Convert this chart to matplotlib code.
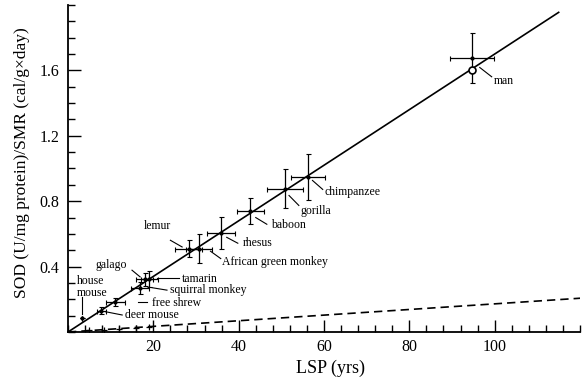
import matplotlib
matplotlib.use("Agg")
import matplotlib.pyplot as plt
from matplotlib.ticker import MultipleLocator

plt.rcParams['font.family'] = ['Liberation Serif', 'DejaVu Serif']

# ---- data ----
species = ["house\nmouse", "deer mouse", "free shrew", "squirral monkey", "galago",
           "tamarin", "lemur", "African green monkey", "rhesus", "baboon",
           "gorilla", "chimpanzee", "man"]
lsp = [3.3, 7.8, 11.1, 16.9, 18.0, 19.1, 28.3, 30.7, 35.8, 42.7, 50.9, 56.2, 94.7]
sod = [0.085, 0.13, 0.185, 0.27, 0.323, 0.325, 0.51, 0.51, 0.605, 0.738, 0.876, 0.947, 1.675]
lsp_err = [0.0, 1.0, 2.2, 2.1, 2.0, 2.1, 3.2, 3.0, 3.3, 3.2, 4.2, 4.0, 5.1]
sod_err = [0.0, 0.02, 0.025, 0.035, 0.04, 0.05, 0.05, 0.09, 0.10, 0.08, 0.12, 0.14, 0.155]

man_circle_x = [94.6]
man_circle_y = [1.60]

fit_x = [0, 115]
fit_y = [0, 1.955]

dash_x = [0, 122]
dash_y = [0, 0.21]
dash_pts_x = [5, 8.5, 12, 16, 19]
dash_pts_y = [0.01, 0.015, 0.02, 0.027, 0.033]

# label text position, leader start, leader end (data coords)
label_pos = [(2.1, 0.277), (13.4, 0.104), (19.6, 0.179), (24.0, 0.256), (13.9, 0.41),
             (26.75, 0.327), (20.9, 0.646), (36.2, 0.429), (40.9, 0.543), (47.5, 0.652),
             (54.6, 0.74), (60.2, 0.855), (99.7, 1.537)]
label_ha = ['left', 'left', 'left', 'left', 'right', 'left', 'center', 'left', 'left',
            'left', 'left', 'left', 'left']
leader_start = [(3.3, 0.213), (8.8, 0.124), (16.3, 0.183), (19.7, 0.271), (15.0, 0.378),
                (20.9, 0.33), (24.0, 0.561), (33.4, 0.494), (37.2, 0.579), (44.0, 0.70),
                (51.8, 0.835), (57.3, 0.927), (96.5, 1.618)]
leader_end = [(3.3, 0.11), (12.7, 0.104), (18.4, 0.183), (23.2, 0.256), (16.9, 0.337),
              (26.0, 0.33), (26.75, 0.52), (35.8, 0.449), (39.8, 0.543), (46.6, 0.659),
              (54.1, 0.774), (59.7, 0.872), (99.3, 1.561)]

xticks = [20, 40, 60, 80, 100]
yticks = [0.4, 0.8, 1.2, 1.6]

# ---- figure ----
W, H = 583, 381
fig = plt.figure(figsize=(W / 100, H / 100), dpi=100)
ax = fig.add_axes([68 / W, (H - 332) / H, (580 - 68) / W, (332 - 5) / H])

ax.plot(fit_x, fit_y, color='black', lw=1.2)
ax.plot(dash_x, dash_y, color='black', lw=1.2, ls=(0, (5, 3)))
ax.plot(dash_pts_x, dash_pts_y, '+', color='black', ms=4, mew=0.9)

ax.errorbar(lsp, sod, xerr=lsp_err, yerr=sod_err, fmt='none', ecolor='black',
            elinewidth=0.9, capsize=1.8, capthick=0.8)
ax.plot(lsp, sod, 'o', color='black', ms=2)
ax.plot(man_circle_x, man_circle_y, 'o', mfc='white', mec='black', ms=5, mew=1.2)

for name, (tx, ty), ha, (sx, sy), (ex, ey) in zip(species, label_pos, label_ha,
                                                   leader_start, leader_end):
    ax.plot([sx, ex], [sy, ey], color='black', lw=0.8)
    ax.text(tx, ty, name, fontsize=8.5, ha=ha, va='center', linespacing=1.0)

ax.set_xlim(0, 120)
ax.set_ylim(0, 2.0)
ax.set_xticks(xticks)
ax.set_yticks(yticks)
ax.xaxis.set_minor_locator(MultipleLocator(4))
ax.yaxis.set_minor_locator(MultipleLocator(0.1))
ax.tick_params(which='both', direction='in', width=1.0, labelsize=11.5)
ax.tick_params(which='major', length=9)
ax.tick_params(which='minor', length=5)
ax.tick_params(axis='x', pad=5)
ax.tick_params(axis='y', pad=6)
ax.set_yticklabels([f"{v:.1f}" for v in yticks])

for s in ['top', 'right']:
    ax.spines[s].set_visible(False)
for s in ['left', 'bottom']:
    ax.spines[s].set_linewidth(1.3)

fig.text(22 / W, 1 - 163 / H, "SOD (U/mg protein)/SMR (cal/g\u00d7day)", rotation=90,
         ha='center', va='center', fontsize=12.5)
fig.text(330 / W, 1 - 368 / H, "LSP (yrs)", ha='center', va='center', fontsize=13)

fig.savefig("out.png", dpi=100)
